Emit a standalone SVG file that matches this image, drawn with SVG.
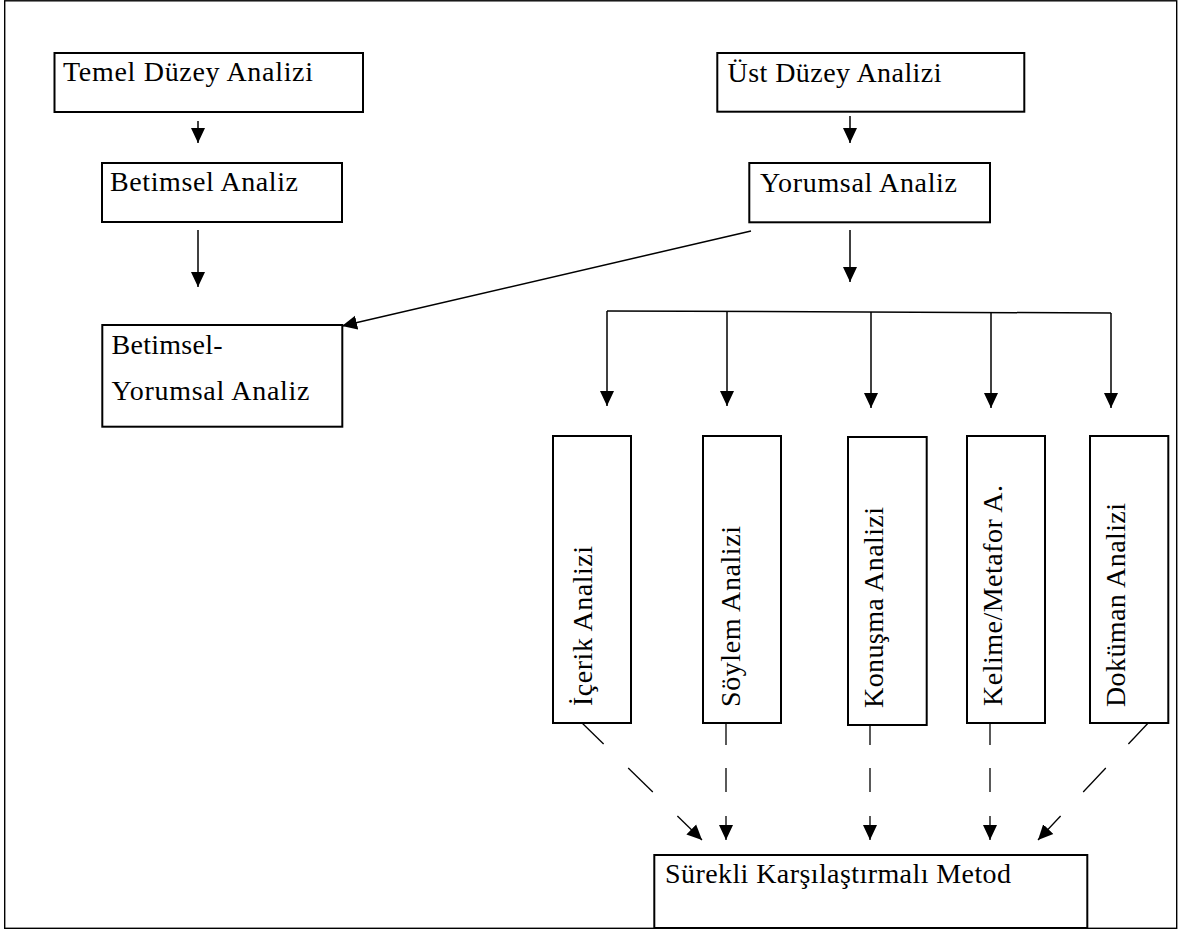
<svg xmlns="http://www.w3.org/2000/svg" width="1178" height="931" viewBox="0 0 1178 931">
<style>
.box{fill:#fff;stroke:#000;stroke-width:2}
.t{font-family:"Liberation Serif","Times New Roman",serif;font-size:28px;fill:#000}
.c{stroke:#000;stroke-width:1.5;fill:none}
.d{stroke:#000;stroke-width:1.3;fill:none}
</style>
<defs>
<marker id="ah" markerUnits="userSpaceOnUse" markerWidth="16" markerHeight="16" viewBox="0 0 16 14" refX="15" refY="7" orient="auto">
<path d="M0,0 L15,7 L0,14 z" fill="#000"/>
</marker>
</defs>
<rect x="4.7" y="0.8" width="1172" height="927.5" fill="#fff" stroke="#000" stroke-width="1.4"/>
<g id="connectors">
<line class="c" x1="198" y1="121" x2="198" y2="143" marker-end="url(#ah)"/>
<line class="c" x1="198" y1="230" x2="198" y2="287" marker-end="url(#ah)"/>
<line class="c" x1="850" y1="116" x2="850" y2="143" marker-end="url(#ah)"/>
<line class="c" x1="850" y1="230" x2="850" y2="282" marker-end="url(#ah)"/>
<line class="c" x1="751" y1="231" x2="342" y2="326" marker-end="url(#ah)"/>
<line class="c" x1="607" y1="311" x2="1111" y2="313"/>
<line class="c" x1="607" y1="311" x2="607" y2="406" marker-end="url(#ah)"/>
<line class="c" x1="727" y1="311.5" x2="727" y2="406" marker-end="url(#ah)"/>
<line class="c" x1="871" y1="312" x2="871" y2="408" marker-end="url(#ah)"/>
<line class="c" x1="991" y1="312.5" x2="991" y2="408" marker-end="url(#ah)"/>
<line class="c" x1="1111" y1="313" x2="1111" y2="408" marker-end="url(#ah)"/>
<line class="d" x1="579" y1="720" x2="603.6" y2="744"/>
<line class="d" x1="628.2" y1="768" x2="652.8" y2="792"/>
<line class="d" x1="677.4" y1="816" x2="702" y2="840" marker-end="url(#ah)"/>
<line class="d" x1="726" y1="722" x2="726" y2="745"/>
<line class="d" x1="726" y1="768" x2="726" y2="792"/>
<line class="d" x1="726" y1="816" x2="726" y2="840" marker-end="url(#ah)"/>
<line class="d" x1="870" y1="725" x2="870" y2="745"/>
<line class="d" x1="870" y1="768" x2="870" y2="792"/>
<line class="d" x1="870" y1="816" x2="870" y2="840" marker-end="url(#ah)"/>
<line class="d" x1="990" y1="722" x2="990" y2="745"/>
<line class="d" x1="990" y1="768" x2="990" y2="792"/>
<line class="d" x1="990" y1="816" x2="990" y2="840" marker-end="url(#ah)"/>
<line class="d" x1="1151" y1="720" x2="1128.4" y2="744"/>
<line class="d" x1="1105.8" y1="768" x2="1083.2" y2="792"/>
<line class="d" x1="1060.6" y1="816" x2="1038" y2="840" marker-end="url(#ah)"/>
</g>
<g id="temel"><rect class="box" x="54.5" y="53" width="308.5" height="59"/><text class="t" x="63" y="81" textLength="250">Temel Düzey Analizi</text></g>
<g id="betimsel"><rect class="box" x="102" y="163" width="240" height="59"/><text class="t" x="110" y="191" textLength="188">Betimsel Analiz</text></g>
<g id="betimsel-yorumsal"><rect class="box" x="102.3" y="325" width="240" height="101.7"/><text class="t" x="111.5" y="354" textLength="111">Betimsel-</text><text class="t" x="111.5" y="400" textLength="198">Yorumsal Analiz</text></g>
<g id="ust"><rect class="box" x="717.3" y="53" width="307" height="58.7"/><text class="t" x="727.5" y="81.5" textLength="214">Üst Düzey Analizi</text></g>
<g id="yorumsal"><rect class="box" x="749.3" y="163" width="240.7" height="59.3"/><text class="t" x="760" y="191.5" textLength="197">Yorumsal Analiz</text></g>
<g id="icerik"><rect class="box" x="553" y="436" width="78" height="287"/><text class="t" transform="translate(591.5,706) rotate(-90)" textLength="160">İçerik Analizi</text></g>
<g id="soylem"><rect class="box" x="703" y="436" width="78" height="287"/><text class="t" transform="translate(740,707) rotate(-90)" textLength="181">Söylem Analizi</text></g>
<g id="konusma"><rect class="box" x="848" y="437" width="78.7" height="288"/><text class="t" transform="translate(882.5,708) rotate(-90)" textLength="201">Konuşma Analizi</text></g>
<g id="kelime"><rect class="box" x="967" y="436" width="78" height="287"/><text class="t" transform="translate(1001.5,706) rotate(-90)" textLength="221">Kelime/Metafor A.</text></g>
<g id="dokuman"><rect class="box" x="1090" y="436" width="78.3" height="287"/><text class="t" transform="translate(1125,707) rotate(-90)" textLength="204">Doküman Analizi</text></g>
<g id="surekli"><rect class="box" x="654.3" y="855" width="433" height="73"/><text class="t" x="665" y="883" textLength="346">Sürekli Karşılaştırmalı Metod</text></g>
</svg>
